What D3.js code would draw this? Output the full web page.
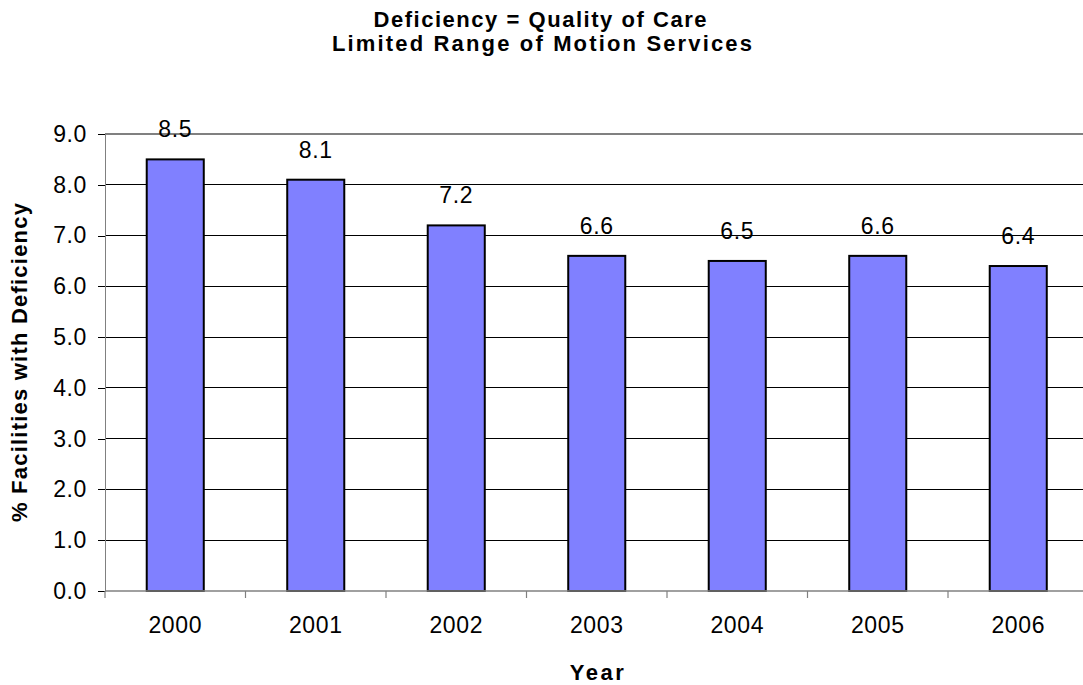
<!DOCTYPE html>
<html>
<head>
<meta charset="utf-8">
<script src="https://cdn.jsdelivr.net/npm/d3@7"></script>
<style>
  html, body { margin: 0; padding: 0; background: #fff; }
  svg { display: block; }
  text { font-family: "Liberation Sans", Arial, sans-serif; fill: #000; }
</style>
</head>
<body>
<svg id="chart" width="1083" height="685"></svg>
<script>
const years = ["2000", "2001", "2002", "2003", "2004", "2005", "2006"];
const values = [8.5, 8.1, 7.2, 6.6, 6.5, 6.6, 6.4];
const yTicks = [0, 1, 2, 3, 4, 5, 6, 7, 8, 9];
const titleLines = ["Deficiency = Quality of Care", "Limited Range of Motion Services"];
const xTitle = "Year";
const yTitle = "% Facilities with Deficiency";

const svg = d3.select("#chart");
const plotL = 105, plotR = 1088.5, plotT = 134, plotB = 591;
const FONT = '"Liberation Sans", Arial, sans-serif';

const x = d3.scaleBand().domain(years).range([plotL, plotR])
  .paddingInner(0.594).paddingOuter(0.297);
const y = d3.scaleLinear().domain([0, 9]).range([plotB, plotT]);

// gridlines
svg.append("g").selectAll("line").data(yTicks.filter(d => d > 0)).join("line")
  .attr("x1", plotL).attr("x2", plotR)
  .attr("y1", d => y(d)).attr("y2", d => y(d))
  .attr("stroke", d => d === 9 ? "#808080" : "#000")
  .attr("stroke-width", d => d === 9 ? 1.5 : 1)
  .attr("shape-rendering", "crispEdges");

// y axis
const yAxis = svg.append("g").attr("transform", `translate(${plotL},0)`)
  .call(d3.axisLeft(y).tickValues(yTicks).tickFormat(d3.format(".1f")).tickSize(7).tickPadding(11));
yAxis.select(".domain").attr("stroke", "#808080").attr("shape-rendering", "crispEdges");
yAxis.selectAll(".tick line").attr("stroke", "#000").attr("shape-rendering", "crispEdges");
yAxis.selectAll(".tick text")
  .style("font-family", FONT)
  .style("font-size", "23px").attr("letter-spacing", "0.6px").attr("fill", "#000");

// bars
svg.append("g").selectAll("rect").data(values).join("rect")
  .attr("x", (d, i) => x(years[i]))
  .attr("width", x.bandwidth())
  .attr("y", d => y(d))
  .attr("height", d => y(0) - y(d))
  .attr("fill", "#8080FF")
  .attr("stroke", "#000")
  .attr("stroke-width", 2);

// x axis line
svg.append("line").attr("x1", plotL).attr("x2", plotR)
  .attr("y1", plotB).attr("y2", plotB)
  .attr("stroke", "#808080").attr("stroke-width", 1.5);

// category boundary ticks
const boundaries = years.map(yr => x(yr) - (x.step() - x.bandwidth()) / 2);
boundaries.push(plotR);
svg.append("g").selectAll("line").data(boundaries).join("line")
  .attr("x1", d => d).attr("x2", d => d)
  .attr("y1", plotB).attr("y2", plotB + 7)
  .attr("stroke", "#808080").attr("stroke-width", 1.2);

// x labels
const xAxis = svg.append("g").attr("transform", `translate(0,${plotB})`)
  .call(d3.axisBottom(x).tickSize(0).tickPadding(26));
xAxis.select(".domain").remove();
xAxis.selectAll(".tick text")
  .style("font-family", FONT)
  .style("font-size", "23px").attr("letter-spacing", "0.6px").attr("fill", "#000");

// value labels
svg.append("g").selectAll("text").data(values).join("text")
  .attr("x", (d, i) => x(years[i]) + x.bandwidth() / 2)
  .attr("y", d => y(d) - 22)
  .attr("text-anchor", "middle")
  .attr("font-size", "23px").attr("letter-spacing", "0.6px")
  .text(d => d.toFixed(1));

// titles
svg.append("text").attr("x", 540).attr("y", 27).attr("text-anchor", "middle")
  .attr("font-size", "22px").attr("font-weight", "bold")
  .attr("textLength", 333).attr("lengthAdjust", "spacing")
  .text(titleLines[0]);
svg.append("text").attr("x", 542).attr("y", 51).attr("text-anchor", "middle")
  .attr("font-size", "22px").attr("font-weight", "bold")
  .attr("textLength", 420).attr("lengthAdjust", "spacing")
  .text(titleLines[1]);

svg.append("text").attr("x", (plotL + plotR) / 2).attr("y", 680).attr("text-anchor", "middle")
  .attr("font-size", "22px").attr("font-weight", "bold")
  .attr("textLength", 54).attr("lengthAdjust", "spacing")
  .text(xTitle);

svg.append("text")
  .attr("transform", `translate(27,${(plotT + plotB) / 2}) rotate(-90)`)
  .attr("text-anchor", "middle")
  .attr("font-size", "22px").attr("font-weight", "bold")
  .attr("textLength", 319).attr("lengthAdjust", "spacing")
  .text(yTitle);
</script>
</body>
</html>
